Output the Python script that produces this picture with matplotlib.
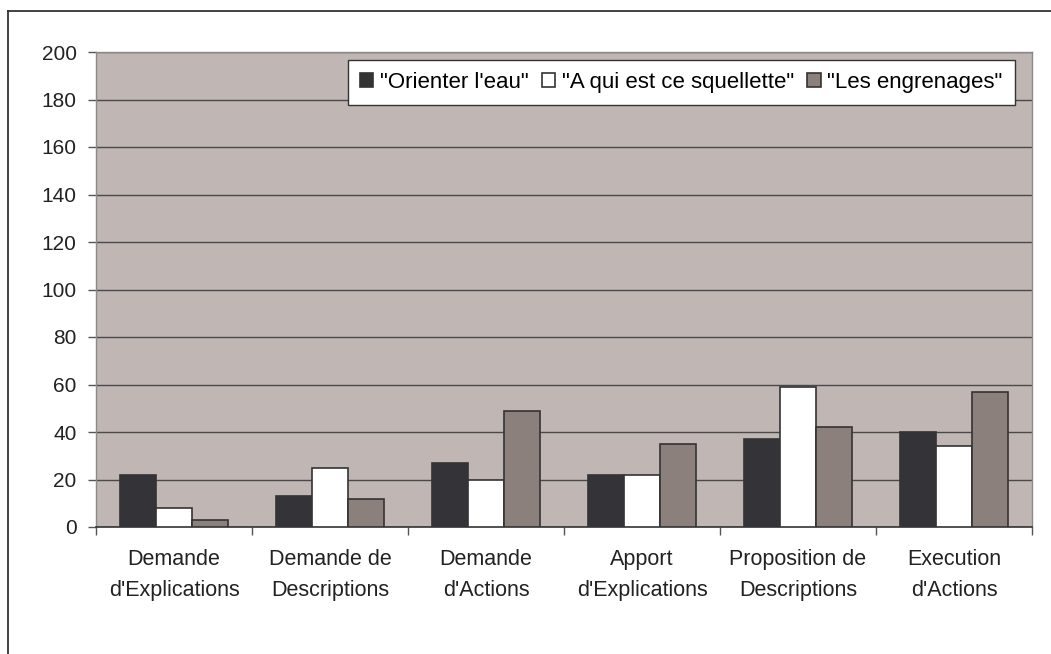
import matplotlib
matplotlib.use("Agg")
import matplotlib.pyplot as plt
import numpy as np
from matplotlib.lines import Line2D

categories = ["Demande\nd'Explications", "Demande de\nDescriptions", "Demande\nd'Actions",
              "Apport\nd'Explications", "Proposition de\nDescriptions", "Execution\nd'Actions"]
series_names = ['"Orienter l\'eau"', '"A qui est ce squellette"', '"Les engrenages"']
orienter = [22, 13, 27, 22, 37, 40]
squellette = [8, 25, 20, 22, 59, 34]
engrenages = [3, 12, 49, 35, 42, 57]
yticks = [0, 20, 40, 60, 80, 100, 120, 140, 160, 180, 200]

plt.rcParams['font.family'] = ['Liberation Sans', 'DejaVu Sans']
fig = plt.figure(figsize=(10.51, 6.54), dpi=100)
ax = fig.add_axes([96/1051, 1-527/654, (1032-96)/1051, (527-52)/654])
ax.set_facecolor('#c0b6b3')

colors = ['#333338', '#ffffff', '#8c807c']
data = [orienter, squellette, engrenages]
x = np.arange(len(categories))
w = 0.23
for i, (vals, c, name) in enumerate(zip(data, colors, series_names)):
    ax.bar(x + (i - 1) * w, vals, width=w, color=c, edgecolor='#333333', linewidth=1.2,
           label=name, zorder=3)

FS = 15
ax.set_ylim(0, 200)
ax.set_xlim(-0.5, len(categories) - 0.5)
ax.set_yticks(yticks)
ax.yaxis.grid(True, color='#4a4a4a', linewidth=1.0, zorder=1)
ax.set_axisbelow(True)
ax.tick_params(axis='y', labelsize=FS, colors='#555555', length=6, width=1, pad=8)
ax.set_yticklabels([str(v) for v in yticks], color='#222222')

ax.set_xticks(np.arange(len(categories) + 1) - 0.5)
ax.set_xticklabels([])
ax.set_xticks(x, minor=True)
ax.set_xticklabels(categories, minor=True, fontsize=15.5, color='#222222', linespacing=1.6)
ax.tick_params(axis='x', which='major', length=6, width=1, colors='#555555')
ax.tick_params(axis='x', which='minor', length=0, pad=16)

for s in ['left', 'top', 'right']:
    ax.spines[s].set_color('#8a8a8a')
    ax.spines[s].set_linewidth(1)
ax.spines['bottom'].set_color('#333333')
ax.spines['bottom'].set_linewidth(1.2)

leg = ax.legend(loc='upper right', ncol=3, fontsize=16, frameon=True, fancybox=False,
                edgecolor='#333333', framealpha=1, handlelength=0.6, handleheight=0.6,
                handletextpad=0.3, columnspacing=0.6, borderpad=0.55, borderaxespad=0,
                bbox_to_anchor=(1 - 17/936, 1 - 8/475))
leg.get_frame().set_linewidth(1.0)
leg.set_zorder(5)

# outer chart frame
fig.add_artist(Line2D([8/1051, 1.0], [1-11/654, 1-11/654], color='#333333', lw=1.3,
                      transform=fig.transFigure))
fig.add_artist(Line2D([8/1051, 8/1051], [0.0, 1-11/654], color='#333333', lw=1.3,
                      transform=fig.transFigure))

fig.savefig('out.png', dpi=100)
